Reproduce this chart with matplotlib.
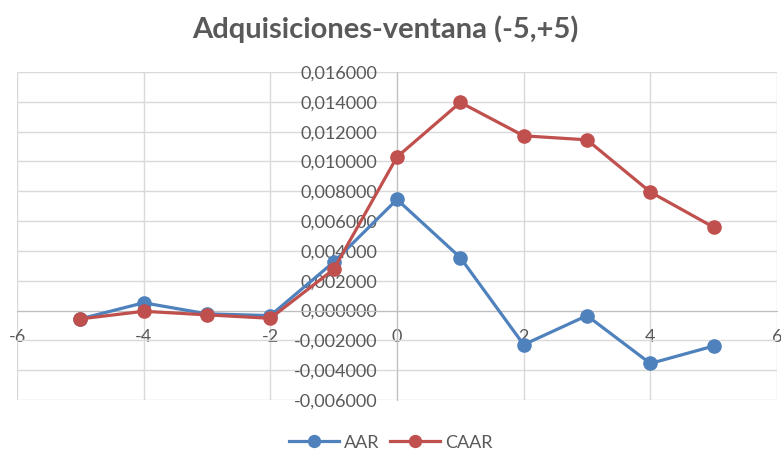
import matplotlib.pyplot as plt
from matplotlib.ticker import FuncFormatter, MultipleLocator

days = [-5, -4, -3, -2, -1, 0, 1, 2, 3, 4, 5]
aar = [-0.00056, 0.00052, -0.00022, -0.00034, 0.00325, 0.00745,
       0.00355, -0.00229, -0.00034, -0.00355, -0.00238]
caar = [-0.00056, -0.00005, -0.00029, -0.00052, 0.00276, 0.01030,
        0.01396, 0.01172, 0.01145, 0.00795, 0.00559]

plt.rcParams['font.family'] = ['Lato', 'DejaVu Sans']
plt.rcParams['axes.unicode_minus'] = False
GRAY = '#595959'

fig = plt.figure(figsize=(7.81, 4.51), dpi=100)
ax = fig.add_axes([17 / 781, 51 / 451, 760 / 781, 328 / 451])

ax.plot(days, aar, color='#4F81BD', lw=2.3, marker='o', ms=9.5, label='AAR', zorder=3)
ax.plot(days, caar, color='#C0504D', lw=2.3, marker='o', ms=9.5, label='CAAR', zorder=3)

ax.set_xlim(-6, 6)
ax.set_ylim(-0.006, 0.016)
ax.xaxis.set_major_locator(MultipleLocator(2))
ax.yaxis.set_major_locator(MultipleLocator(0.002))
ax.yaxis.set_major_formatter(FuncFormatter(lambda v, p: f"{v:.6f}".replace('.', ',').replace('-0,000000', '0,000000')))

ax.grid(True, color='#d9d9d9', lw=1)
ax.set_axisbelow(True)
for s in ['top', 'right']:
    ax.spines[s].set_visible(False)
ax.spines['left'].set_position(('data', 0))
ax.spines['bottom'].set_position(('data', 0))
ax.spines['left'].set_color('#bfbfbf')
ax.spines['bottom'].set_color('#bfbfbf')
ax.tick_params(axis='both', length=0, labelsize=13, labelcolor=GRAY)
ax.tick_params(axis='x', pad=13)
ax.tick_params(axis='y', pad=14)

fig.suptitle('Adquisiciones-ventana (-5,+5)', x=0.493, y=0.965, fontsize=21,
             fontweight='bold', color=GRAY)

fig.legend(loc='lower center', bbox_to_anchor=(0.5, -0.035), ncol=2, frameon=False,
           fontsize=13, labelcolor=GRAY, handlelength=2.8, columnspacing=0.6,
           handletextpad=0.25, markerscale=0.9)

plt.savefig('out.png', dpi=100)
